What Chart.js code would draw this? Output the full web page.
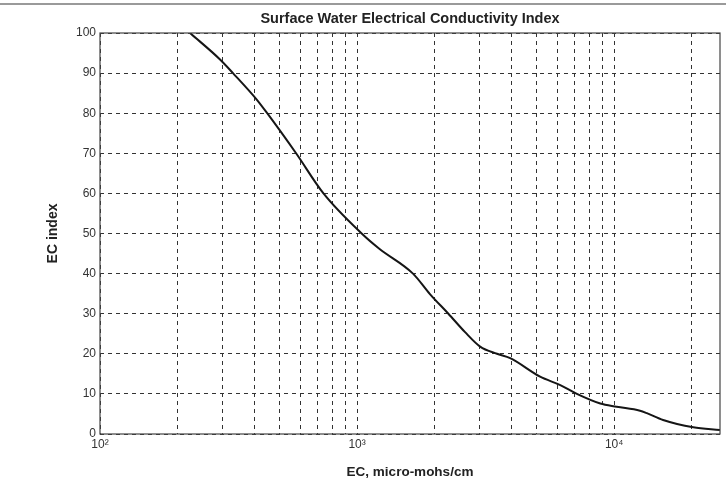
<!DOCTYPE html>
<html>
<head>
<meta charset="utf-8">
<script src="https://cdn.jsdelivr.net/npm/chart.js@4"></script>
<style>
  html, body { margin: 0; padding: 0; background: #fff; }
  #wrap { position: relative; width: 726px; height: 481px; }
  #rule { position: absolute; top: 3px; left: 0; width: 726px; height: 2px; background: #9a9a9a; }
</style>
</head>
<body>
<div id="wrap">
  <div id="rule"></div>
  <canvas id="chart" width="726" height="481"></canvas>
</div>
<script>
// values (EC in micro-mohs/cm vs index)
const ecValues = [224, 293, 329, 407, 447, 579, 740, 1042, 1220, 1650, 1920, 2265, 2630, 3010, 3500, 3940, 5150, 6170, 7160, 8830, 10230, 12600, 13400, 15500, 20300, 25800];
const ecIndex = [100, 93.4, 90, 83.4, 80, 70, 60, 50, 46.2, 40, 34.9, 30, 25.4, 21.8, 20, 18.9, 14.3, 12.2, 10, 7.6, 6.8, 5.8, 5.2, 3.5, 1.7, 1.0];
const xGridValues = [100, 200, 300, 400, 500, 600, 700, 800, 900, 1000, 2000, 3000, 4000, 5000, 6000, 7000, 8000, 9000, 10000, 20000];
const xTickLabels = { 100: '10²', 1000: '10³', 10000: '10⁴' };

const fontFamily = '"Liberation Sans", Arial, sans-serif';

// box round the plot area, like matlab
const boxPlugin = {
    id: 'box',
    afterDraw(chart) {
        const { ctx, chartArea: a } = chart;
        ctx.save();
        ctx.strokeStyle = '#444';
        ctx.lineWidth = 1.2;
        ctx.strokeRect(a.left, a.top, a.right - a.left, a.bottom - a.top);
        ctx.restore();
    }
};

const points = ecValues.map((v, i) => ({ x: v, y: ecIndex[i] }));

new Chart(document.getElementById('chart'), {
    type: 'line',
    data: {
        datasets: [{
            data: points,
            borderColor: '#151515',
            borderWidth: 2,
            pointRadius: 0,
            cubicInterpolationMode: 'monotone',
            fill: false
        }]
    },
    options: {
        responsive: false,
        animation: false,
        layout: { padding: { left: 0, right: 6, top: 0, bottom: 0 } },
        plugins: {
            legend: { display: false },
            tooltip: { enabled: false },
            title: {
                display: true,
                fullSize: false,
                text: 'Surface Water Electrical Conductivity Index',
                color: '#222',
                font: { family: fontFamily, size: 14.5, weight: 'bold' },
                padding: { top: 10, bottom: 5.6 }
            }
        },
        scales: {
            x: {
                type: 'logarithmic',
                min: 100,
                max: 25800,
                afterBuildTicks: (scale) => {
                    scale.ticks = xGridValues.map((v) => ({ value: v }));
                },
                afterFit: (scale) => { scale.height = 47; },
                ticks: {
                    autoSkip: false,
                    maxRotation: 0,
                    padding: 3,
                    color: '#333',
                    font: { family: fontFamily, size: 12 },
                    callback: (v) => xTickLabels[v] || ''
                },
                grid: {
                    color: '#333',
                    lineWidth: 1,
                    drawTicks: false,
                    tickLength: 0
                },
                border: { display: false, dash: [4, 4] },
                title: {
                    display: true,
                    text: 'EC, micro-mohs/cm',
                    color: '#222',
                    font: { family: fontFamily, size: 13.5, weight: 'bold' },
                    padding: { top: 0, bottom: 1 }
                }
            },
            y: {
                min: 0,
                max: 100,
                afterFit: (scale) => { scale.width = 100; },
                ticks: {
                    stepSize: 10,
                    padding: 4,
                    color: '#333',
                    font: { family: fontFamily, size: 12 }
                },
                grid: {
                    color: '#333',
                    lineWidth: 1,
                    drawTicks: false,
                    tickLength: 0
                },
                border: { display: false, dash: [4, 4] },
                title: {
                    display: true,
                    text: 'EC index',
                    color: '#222',
                    font: { family: fontFamily, size: 14, weight: 'bold' },
                    padding: { top: 45, bottom: 0 }
                }
            }
        }
    },
    plugins: [boxPlugin]
});
</script>
</body>
</html>
